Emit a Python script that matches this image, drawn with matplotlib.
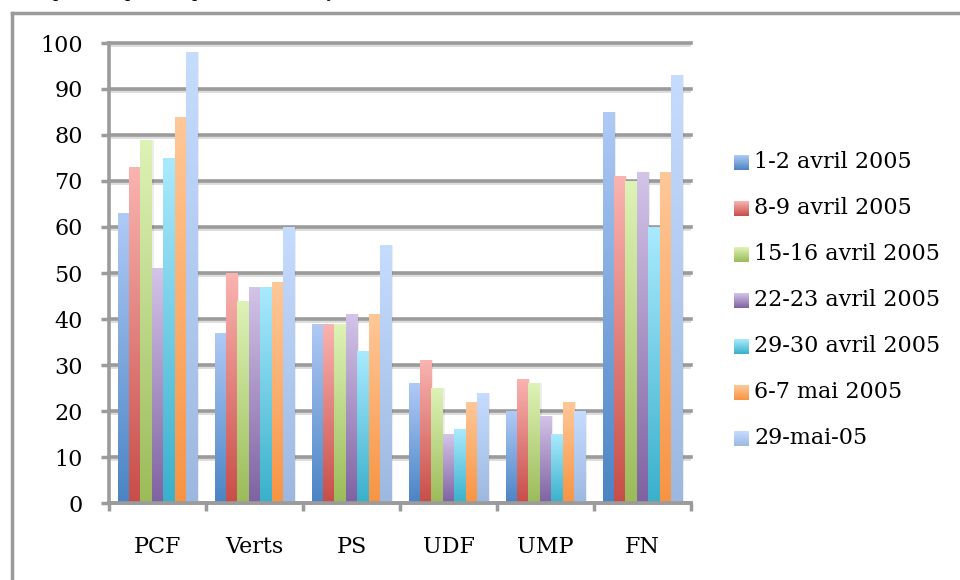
import numpy as np
import matplotlib
matplotlib.use("Agg")
import matplotlib.pyplot as plt
from matplotlib.colors import LinearSegmentedColormap

plt.rcParams['font.family'] = ['DejaVu Serif']

# ----- data -----
parties = ["PCF", "Verts", "PS", "UDF", "UMP", "FN"]
series_names = ["1-2 avril 2005", "8-9 avril 2005", "15-16 avril 2005",
                "22-23 avril 2005", "29-30 avril 2005", "6-7 mai 2005",
                "29-mai-05"]
s_0102 = [63, 37, 39, 26, 20, 85]
s_0809 = [73, 50, 39, 31, 27, 71]
s_1516 = [79, 44, 39, 25, 26, 70]
s_2223 = [51, 47, 41, 15, 19, 72]
s_2930 = [75, 47, 33, 16, 15, 60]
s_0607 = [84, 48, 41, 22, 22, 72]
s_2905 = [98, 60, 56, 24, 20, 93]
all_series = [s_0102, s_0809, s_1516, s_2223, s_2930, s_0607, s_2905]
yticks = [0, 10, 20, 30, 40, 50, 60, 70, 80, 90, 100]

# bottom colour -> top colour of each bar gradient
grad = [("#4a84c4", "#b0caf6"),
        ("#c84d48", "#fab4b1"),
        ("#9bbb59", "#def3b6"),
        ("#7f62a1", "#d3c4e8"),
        ("#39b0cb", "#aaeafe"),
        ("#f79443", "#ffc898"),
        ("#9db8e0", "#c6dcff")]

GRAY = "#9b9b9b"
FS = 16
W, H = 960, 580
fig = plt.figure(figsize=(W / 100, H / 100), dpi=100)

# overlay for the frame, legend and cut-off text above
ov = fig.add_axes([0, 0, 1, 1], zorder=0)
ov.set_xlim(0, W)
ov.set_ylim(H, 0)
ov.axis("off")
ov.plot([12, 12], [13, H + 5], color=GRAY, lw=2.5, clip_on=False)
ov.plot([12, W + 5], [13, 13], color=GRAY, lw=2.5, clip_on=False)
for px, ch in [(58, "p"), (130, "p"), (197, "p"), (328, "ç")]:
    ov.text(px, -3, ch, fontsize=12, ha="center", va="baseline", clip_on=False)

ax = fig.add_axes([109 / W, (H - 503) / H, 582 / W, 460 / H], zorder=1)
ax.patch.set_alpha(0)

x = np.arange(len(parties))
bw = 0.117
for i, vals in enumerate(all_series):
    off = (i - 3) * bw
    # soft shadow
    ax.bar(x + off + 0.018, vals, bw, color="#000000", alpha=0.07, zorder=2,
           linewidth=0)
    bars = ax.bar(x + off, vals, bw, color="none", linewidth=0, zorder=3)
    cmap = LinearSegmentedColormap.from_list("g%d" % i, list(grad[i]))
    g = np.linspace(0, 1, 256).reshape(-1, 1)
    for r in bars:
        x0, y0, w, h = r.get_x(), r.get_y(), r.get_width(), r.get_height()
        im = ax.imshow(g, extent=[x0, x0 + w, y0, y0 + h], origin="lower",
                       aspect="auto", cmap=cmap, zorder=3, interpolation="bilinear")
        im.set_clip_path(r)

for t in yticks:
    ax.axhline(t - 0.35, color="#dcdcdc", lw=2.0, zorder=1)
    ax.axhline(t, color=GRAY, lw=2.6, zorder=1, clip_on=False)

ax.set_xlim(-0.5, len(parties) - 0.5)
ax.set_ylim(0, 100)
ax.set_yticks(yticks)
ax.set_yticklabels([str(t) for t in yticks])
ax.set_xticks(x)
ax.set_xticklabels(parties)
ax.set_xticks(np.arange(len(parties) + 1) - 0.5, minor=True)
ax.tick_params(axis="x", which="major", length=0, pad=24, labelsize=FS)
ax.tick_params(axis="x", which="minor", length=6, width=2.5, color=GRAY)
ax.tick_params(axis="y", length=6, width=2.5, color=GRAY, pad=13, labelsize=FS)
for s in ["top", "right"]:
    ax.spines[s].set_visible(False)
for s in ["left", "bottom"]:
    ax.spines[s].set_color(GRAY)
    ax.spines[s].set_linewidth(2.6)
    ax.spines[s].set_zorder(4)

# legend, drawn by hand with gradient swatches
g = np.linspace(0, 1, 64).reshape(-1, 1)
for i, name in enumerate(series_names):
    cy = 162 + i * 46
    cmap = LinearSegmentedColormap.from_list("l%d" % i, list(grad[i]))
    ov.imshow(g, extent=[734, 749, cy + 8, cy - 7], origin="lower",
              aspect="auto", cmap=cmap, zorder=3)
    ov.text(754, cy, name, fontsize=FS, va="center", ha="left")
ov.set_xlim(0, W)
ov.set_ylim(H, 0)

fig.savefig("out.png", dpi=100)
